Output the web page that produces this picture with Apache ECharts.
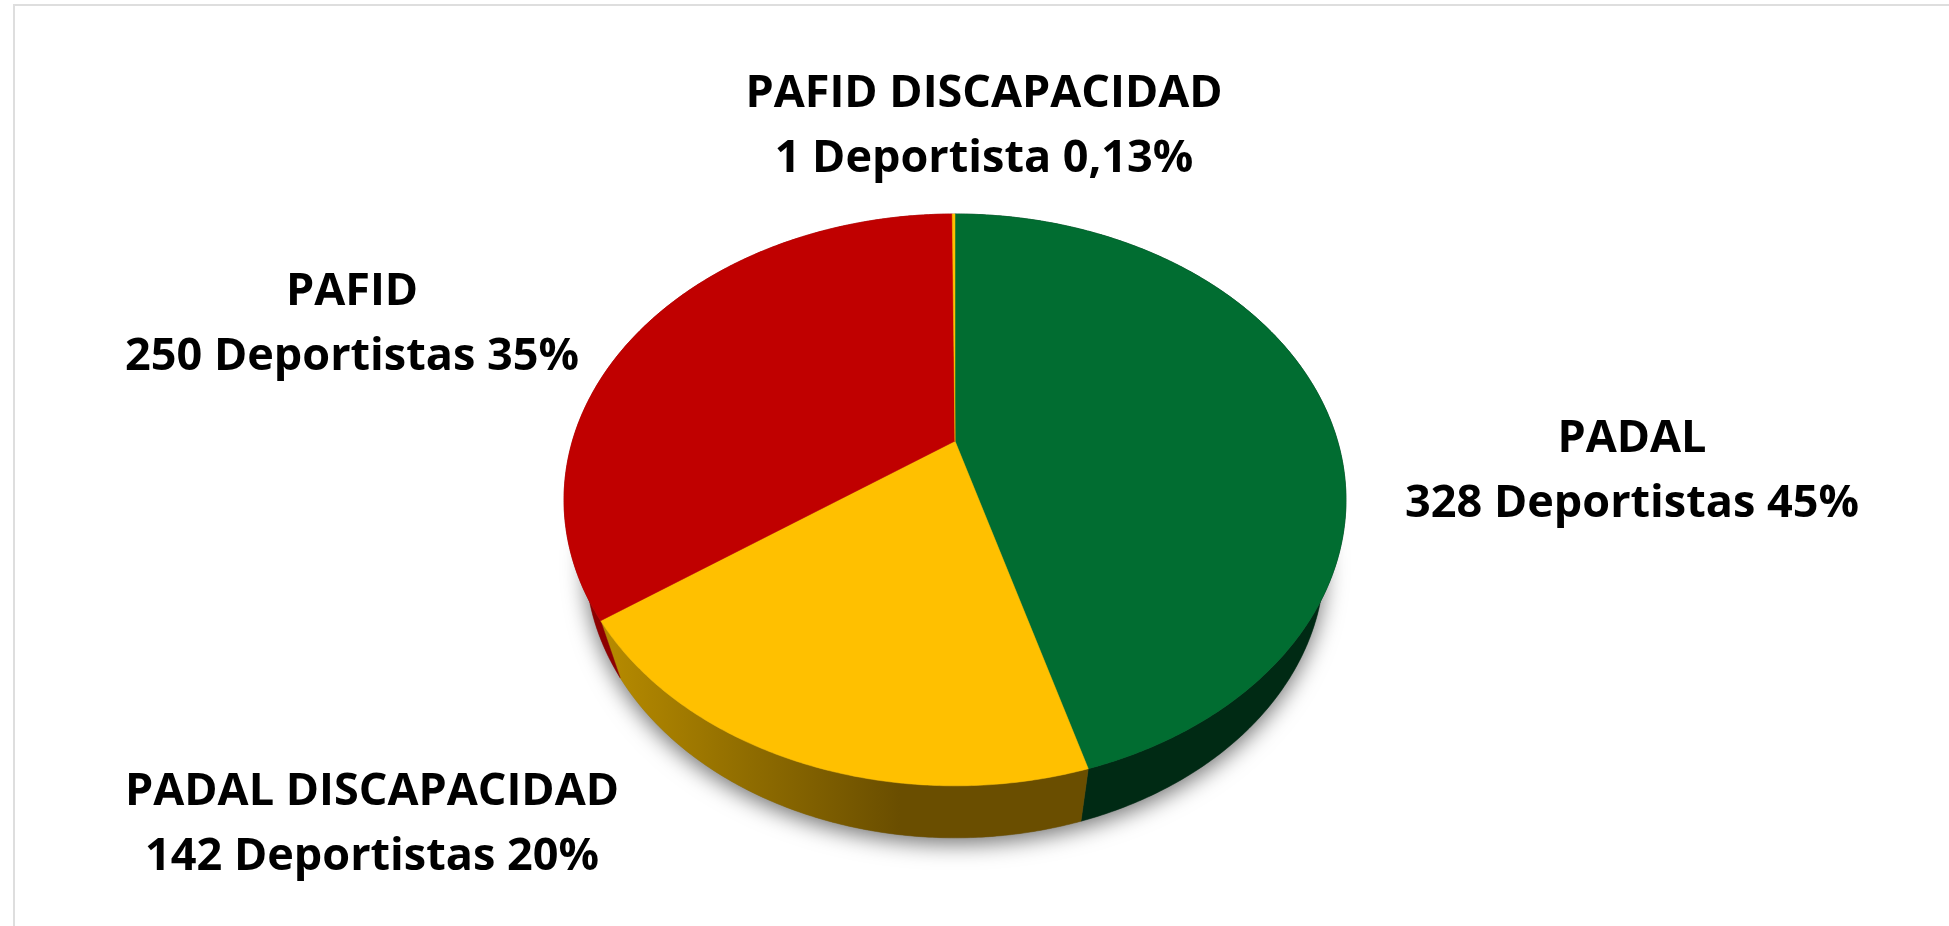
<!DOCTYPE html>
<html><head><meta charset="utf-8">
<style>html,body{margin:0;padding:0;background:#fff}#c{width:1949px;height:926px}</style>
<script src="https://cdn.jsdelivr.net/npm/echarts@6/dist/echarts.min.js"></script>
</head><body><div id="c"></div>
<script>
const categories = ['PADAL','PADAL DISCAPACIDAD','PAFID','PAFID DISCAPACIDAD'];
const athletes = [328,142,250,1];
const athleteWords = ['Deportistas','Deportistas','Deportistas','Deportista'];
const percentLabels = ['45%','20%','35%','0,13%'];
const topColors = ['#016d31','#ffc000','#c00000','#ffc000'];
const labelCentres = [[1632,472],[372,825],[352,325],[984,127]];

const total = athletes.reduce((a,b)=>a+b,0);
const cx = 955, cy = 441, k = 0.206, a = 382.6, b = 273.8;
function topPoint(t){ // t: clockwise angle from top; perspective projection of a disc
  const u = Math.sin(t), v = -Math.cos(t), w = 1 - k*v;
  return [cx + a*u/w, cy + b*v/w];
}
function bottomPoint(t){
  const p = topPoint(t);
  return [cx + (p[0]-cx)*0.945, 677 + (p[1]-620)*0.97];
}
function arc(fn,t0,t1){
  const n = Math.max(2,Math.ceil((t1-t0)*120)), r=[];
  for(let i=0;i<=n;i++) r.push(fn(t0+(t1-t0)*i/n));
  return r;
}
function sliceAngles(idx){
  let s=0; for(let i=0;i<idx;i++) s+=athletes[i];
  return [s/total*2*Math.PI,(s+athletes[idx])/total*2*Math.PI];
}
const sideFill = [
  '#002a14',
  {type:'linear',x:600,y:0,x2:900,y2:0,global:true,colorStops:[
    {offset:0,color:'#b88c00'},{offset:0.5,color:'#8f6c00'},{offset:1,color:'#6a4e00'}]},
  '#8e0000',
  '#8e0000'
];
const chart = echarts.init(document.getElementById('c'),null,{renderer:'canvas'});
chart.setOption({
  animation:false,
  backgroundColor:'#fff',
  graphic:[
    {type:'rect',shape:{x:13,y:4,width:1936,height:2},style:{fill:'#dedede'},silent:true},
    {type:'rect',shape:{x:13,y:4,width:2,height:922},style:{fill:'#dedede'},silent:true},
    ...categories.map((c,i)=>({
      type:'text',x:labelCentres[i][0],y:labelCentres[i][1],z:10,silent:true,
      style:{text:c+'\n'+athletes[i]+' '+athleteWords[i]+' '+percentLabels[i],
        font:'bold 45px "Open Sans"',fill:'#000',align:'center',verticalAlign:'middle',lineHeight:65}
    }))
  ],
  series:[
    {type:'custom',coordinateSystem:'none',silent:true,z:1,data:[total],
     renderItem:()=>({type:'polygon',
       shape:{points:arc(bottomPoint,0,2*Math.PI)},
       style:{fill:'#777',shadowBlur:22,shadowColor:'rgba(0,0,0,0.55)',shadowOffsetX:0,shadowOffsetY:6}})},
    {type:'custom',coordinateSystem:'none',silent:true,z:2,name:'lados',data:athletes,
     renderItem:(p,api)=>{
       const [t0,t1]=sliceAngles(p.dataIndex);
       const pts=arc(topPoint,t0,t1).concat(arc(bottomPoint,t0,t1).reverse());
       return {type:'polygon',shape:{points:pts},
         style:{fill:sideFill[p.dataIndex],stroke:sideFill[p.dataIndex],lineWidth:0.5}};
     }},
    {type:'custom',coordinateSystem:'none',silent:true,z:3,name:'tapa',data:athletes,
     renderItem:(p,api)=>{
       const [t0,t1]=sliceAngles(p.dataIndex);
       const pts=[[cx,cy]].concat(arc(topPoint,t0,t1));
       return {type:'polygon',shape:{points:pts},
         style:{fill:topColors[p.dataIndex],stroke:topColors[p.dataIndex],lineWidth:0.5}};
     }}
  ]
});
</script></body></html>
